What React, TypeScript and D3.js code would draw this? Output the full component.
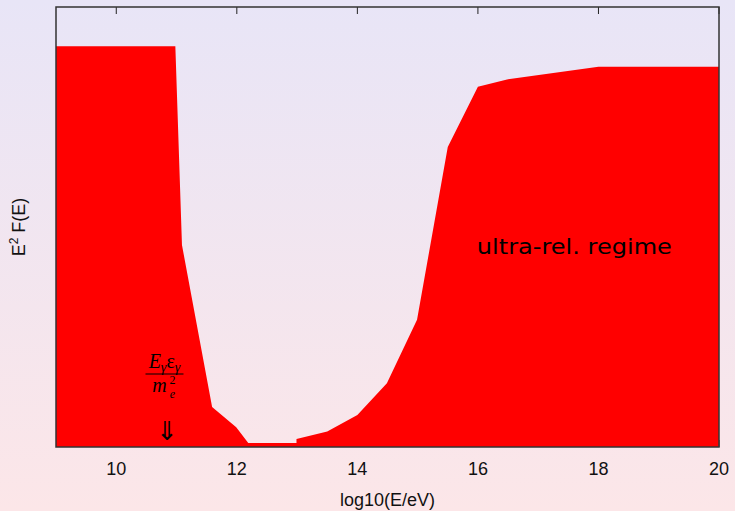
import * as d3 from "d3";
import React from "react";

// spectrum: log10(E/eV) vs E^2 F(E) (arbitrary units)
const logE: number[] = [9, 10.98, 11.09, 11.59, 11.99, 12.19, 12.99, 12.99, 13.5, 14.0, 14.49, 14.99, 15.5, 16.0, 16.5, 18.0, 20];
const e2F: number[] = [0.911, 0.911, 0.459, 0.091, 0.045, 0.009, 0.009, 0.018, 0.035, 0.073, 0.145, 0.289, 0.682, 0.819, 0.836, 0.864, 0.864];
const xTicks: number[] = [10, 12, 14, 16, 18, 20];
const regimeLabel = "ultra-rel.  regime";
const thresholdLogE = 10.8;

const W = 735, H = 511;
const margin = { top: 7, right: 16, bottom: 64, left: 56 };
const sans = "Liberation Sans, Arial, sans-serif";

export default function App() {
  const x = d3.scaleLinear().domain([9, 20]).range([margin.left, W - margin.right]);
  const y = d3.scaleLinear().domain([0, 1]).range([H - margin.bottom, margin.top]);

  const pts: [number, number][] = logE.map((v, i) => [v, e2F[i]]);
  const area = d3.area<[number, number]>()
    .x(d => x(d[0]))
    .y0(y(0))
    .y1(d => y(d[1]))
    .curve(d3.curveLinear);

  const x0 = x.range()[0], x1 = x.range()[1];
  const yTop = y.range()[1], yBot = y.range()[0];
  const ax = x(thresholdLogE);

  return (
    <svg width={W} height={H} style={{ position: "absolute", left: 0, top: 0, display: "block" }}>
      <defs>
        <linearGradient id="bg" x1="0" y1="0" x2="0" y2="1">
          <stop offset="0" stopColor="#e8e5f7" />
          <stop offset="1" stopColor="#fce6e8" />
        </linearGradient>
      </defs>
      <rect x={0} y={0} width={W} height={H} fill="url(#bg)" />

      {/* ticks on top and bottom, pointing in */}
      {xTicks.map(t => (
        <g key={t}>
          <line x1={x(t)} x2={x(t)} y1={yTop} y2={yTop + 7} stroke="#222" strokeWidth={1} />
          <line x1={x(t)} x2={x(t)} y1={yBot} y2={yBot - 7} stroke="#222" strokeWidth={1} />
        </g>
      ))}

      <path d={area(pts) || ""} fill="#ff0000" stroke="none" />

      <rect x={x0} y={yTop} width={x1 - x0} height={yBot - yTop} fill="none" stroke="#333" strokeWidth={1.5} />

      {xTicks.map(t => (
        <text key={"l" + t} x={x(t)} y={yBot + 28} textAnchor="middle"
          fontFamily={sans} fontSize={18} fill="#111">{t}</text>
      ))}

      <text x={(x0 + x1) / 2} y={H - 5} textAnchor="middle"
        fontFamily={sans} fontSize={18} fill="#111">log10(E/eV)</text>

      <text transform={`translate(25,${(yTop + yBot) / 2}) rotate(-90)`} textAnchor="middle"
        fontFamily={sans} fontSize={18} fill="#111">
        E<tspan dy={-7} fontSize={12}>2</tspan><tspan dy={7}> F(E)</tspan>
      </text>

      <text x={x(17.6)} y={y(0.439)} textAnchor="middle" textLength={195} lengthAdjust="spacingAndGlyphs"
        fontFamily="DejaVu Sans, sans-serif" fontSize={22} fill="#000">{regimeLabel}</text>

      {/* threshold annotation */}
      <g fontFamily="Liberation Serif, Times New Roman, serif" fill="#000">
        <text x={ax} y={368} textAnchor="middle" fontSize={20} fontStyle="italic">
          E<tspan dy={4} fontSize={14}>γ</tspan><tspan dy={-4} fontStyle="normal">ε</tspan><tspan dy={4} fontSize={14}>γ</tspan>
        </text>
        <line x1={ax - 19} x2={ax + 19} y1={374} y2={374} stroke="#000" strokeWidth={1.2} />
        <text x={ax - 5} y={392} textAnchor="middle" fontSize={20} fontStyle="italic">m</text>
        <text x={ax + 8} y={398} textAnchor="middle" fontSize={12} fontStyle="italic">e</text>
        <text x={ax + 8} y={384} textAnchor="middle" fontSize={12}>2</text>
        <text x={ax + 3} y={440} textAnchor="middle" fontSize={26}>⇓</text>
      </g>
    </svg>
  );
}
